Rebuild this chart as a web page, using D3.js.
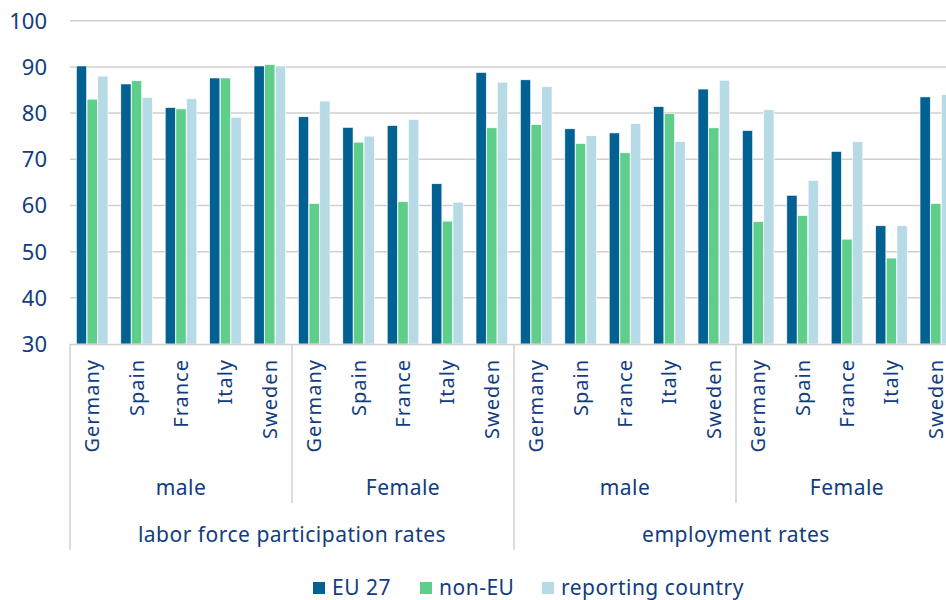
<!DOCTYPE html>
<html>
<head>
<meta charset="utf-8">
<script src="https://cdn.jsdelivr.net/npm/d3@7"></script>
<style>
  body { margin: 0; background: #fff; }
  svg { display: block; }
  text { font-family: "Noto Sans", sans-serif; fill: #123c80; }
</style>
</head>
<body>
<svg id="chart"></svg>
<script>
// chart data
const measures = ["labor force participation rates", "employment rates"];
const sexes = ["male", "Female"];
const countries = ["Germany", "Spain", "France", "Italy", "Sweden"];
const seriesNames = ["EU 27", "non-EU", "reporting country"];
const yTicks = [30, 40, 50, 60, 70, 80, 90, 100];

// values per group, in order measure > sex > country
const eu27 = [90.2, 86.3, 81.2, 87.6, 90.2, 79.2, 76.9, 77.3, 64.7, 88.8,
              87.2, 76.6, 75.7, 81.4, 85.2, 76.2, 62.2, 71.7, 55.6, 83.5];
const nonEU = [83.0, 87.0, 80.9, 87.6, 90.5, 60.4, 73.7, 60.8, 56.6, 76.8,
               77.5, 73.4, 71.4, 79.9, 76.8, 56.5, 57.8, 52.7, 48.6, 60.4];
const reporting = [88.0, 83.4, 83.1, 79.1, 90.2, 82.6, 75.0, 78.6, 60.7, 86.7,
                   85.7, 75.1, 77.7, 73.8, 87.1, 80.7, 65.4, 73.8, 55.6, 84.0];

const colors = ["#006192", "#5fce8a", "#b6dbe6"];

const width = 946;
const height = 600;
const plotLeft = 70, plotRight = 958, plotTop = 20.7, plotBottom = 344;

const svg = d3.select("#chart")
    .attr("width", width)
    .attr("height", height);

// build group keys
const groups = [];
measures.forEach(function (m) {
    sexes.forEach(function (s) {
        countries.forEach(function (c) {
            groups.push({ measure: m, sex: s, country: c, key: m + "|" + s + "|" + c });
        });
    });
});
groups.forEach(function (g, i) {
    g.values = [eu27[i], nonEU[i], reporting[i]];
});

const x = d3.scaleBand()
    .domain(groups.map(d => d.key))
    .range([plotLeft, plotRight])
    .paddingInner(0.27)
    .paddingOuter(0.135);

const xSub = d3.scaleBand()
    .domain(d3.range(3))
    .range([0, x.bandwidth()])
    .padding(0.04);

const y = d3.scaleLinear()
    .domain([30, 100])
    .range([plotBottom, plotTop]);

// gridlines
svg.append("g")
    .selectAll("line")
    .data(yTicks.slice(1))
    .enter()
    .append("line")
    .attr("x1", plotLeft)
    .attr("x2", width)
    .attr("y1", d => y(d))
    .attr("y2", d => y(d))
    .attr("stroke", "#cfcfcf")
    .attr("stroke-width", 1.5);

// y labels
svg.append("g")
    .selectAll("text")
    .data(yTicks)
    .enter()
    .append("text")
    .attr("x", 47)
    .attr("y", d => y(d))
    .attr("dy", "0.36em")
    .attr("text-anchor", "end")
    .style("font-size", "22px")
    .text(d => d);

// bars
const gBars = svg.append("g")
    .selectAll("g")
    .data(groups)
    .enter()
    .append("g")
    .attr("transform", d => "translate(" + x(d.key) + ",0)");

gBars.selectAll("rect")
    .data(d => d.values.map((v, i) => ({ v: v, i: i })))
    .enter()
    .append("rect")
    .attr("x", d => xSub(d.i))
    .attr("width", xSub.bandwidth())
    .attr("y", d => y(d.v))
    .attr("height", d => y(30) - y(d.v))
    .attr("fill", d => colors[d.i])
    .attr("stroke", "#ffffff")
    .attr("stroke-width", 0.6);

// x baseline
svg.append("line")
    .attr("x1", plotLeft)
    .attr("x2", width)
    .attr("y1", plotBottom + 0.5)
    .attr("y2", plotBottom + 0.5)
    .attr("stroke", "#d0d0d0")
    .attr("stroke-width", 1.5);

// country labels (rotated)
svg.append("g")
    .selectAll("text")
    .data(groups)
    .enter()
    .append("text")
    .attr("transform", d => "translate(" + (x(d.key) + x.bandwidth() / 2) + "," + (plotBottom + 15) + ") rotate(-90)")
    .attr("dy", "0.35em")
    .attr("text-anchor", "end")
    .style("font-size", "20px")
    .style("letter-spacing", "1px")
    .text(d => d.country);

// category dividers
const step = x.step();
const blockW = step * countries.length;
const sexBlocks = [];
measures.forEach(function (m, mi) {
    sexes.forEach(function (s, si) {
        sexBlocks.push({ label: s, x0: plotLeft + (mi * 2 + si) * blockW });
    });
});

svg.append("g")
    .selectAll("line")
    .data(sexBlocks)
    .enter()
    .append("line")
    .attr("x1", d => d.x0)
    .attr("x2", d => d.x0)
    .attr("y1", plotBottom)
    .attr("y2", (d, i) => i % 2 === 0 ? 550 : 503)
    .attr("stroke", "#d0d0d0")
    .attr("stroke-width", 1.5);

svg.append("g")
    .selectAll("text")
    .data(sexBlocks)
    .enter()
    .append("text")
    .attr("x", d => d.x0 + blockW / 2)
    .attr("y", 488)
    .attr("dy", "0.35em")
    .attr("text-anchor", "middle")
    .style("font-size", "21px")
    .style("letter-spacing", "0.5px")
    .text(d => d.label);

svg.append("g")
    .selectAll("text")
    .data(measures)
    .enter()
    .append("text")
    .attr("x", (d, i) => plotLeft + i * 2 * blockW + blockW)
    .attr("y", 535)
    .attr("dy", "0.35em")
    .attr("text-anchor", "middle")
    .style("font-size", "21px")
    .style("letter-spacing", "0.5px")
    .text(d => d);

// legend
const legendX = [313, 420, 542];
const legend = svg.append("g")
    .selectAll("g")
    .data(seriesNames)
    .enter()
    .append("g")
    .attr("transform", (d, i) => "translate(" + legendX[i] + ",588)");

legend.append("rect")
    .attr("x", 0)
    .attr("y", -6)
    .attr("width", 12)
    .attr("height", 12)
    .attr("fill", (d, i) => colors[i]);

legend.append("text")
    .attr("x", 19)
    .attr("dy", "0.35em")
    .style("font-size", "21px")
    .style("letter-spacing", "0.5px")
    .text(d => d);
</script>
</body>
</html>
